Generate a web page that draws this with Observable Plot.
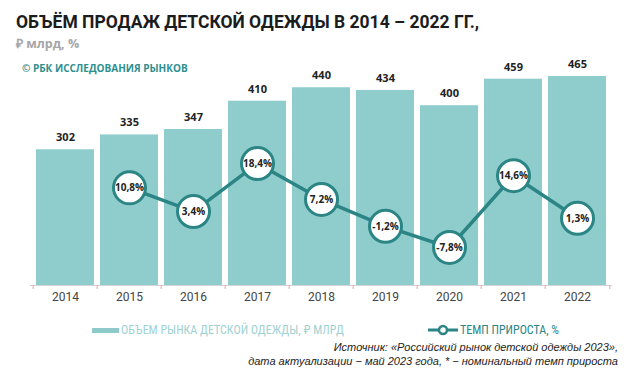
<!DOCTYPE html>
<html><head><meta charset="utf-8">
<script src="https://cdn.jsdelivr.net/npm/d3@7"></script>
<script src="https://cdn.jsdelivr.net/npm/@observablehq/plot@0.6"></script>
<style>
body{margin:0;background:#fff;}
#wrap{position:relative;width:633px;height:371px;overflow:hidden;font-family:"Open Sans",sans-serif;}
#chart{position:absolute;left:0;top:0;}
.t{position:absolute;white-space:nowrap;}
#title{left:16px;top:12px;font:700 17.5px Roboto,sans-serif;color:#1c1c1c;}
#sub{left:16px;top:35px;font:700 12.5px "Open Sans",sans-serif;color:#a6a6a6;}
#copy{left:22px;top:61px;font:700 10px "Open Sans",sans-serif;color:#2e8f8f;}
.leg{top:322px;font:12px "Liberation Sans Narrow","Roboto Condensed",sans-serif;display:flex;align-items:center;}
#src{right:15px;top:340px;text-align:right;font:italic 11px "Liberation Sans Narrow",sans-serif;color:#222;line-height:14px;}
</style></head>
<body><div id="wrap">
<div id="chart"></div>
<div class="t" id="title">ОБЪЁМ ПРОДАЖ ДЕТСКОЙ ОДЕЖДЫ В 2014 – 2022 ГГ.,</div>
<div class="t" id="sub">₽ млрд, %</div>
<div class="t" id="copy">© РБК ИССЛЕДОВАНИЯ РЫНКОВ</div>
<div class="t leg" style="left:92px;color:#9fd2d2;"><svg width="29" height="16"><rect x="0" y="6" width="27" height="5" fill="#8fcaca"/></svg><span>ОБЪЕМ РЫНКА ДЕТСКОЙ ОДЕЖДЫ, ₽ МЛРД</span></div>
<div class="t leg" style="left:428px;color:#2b8585;"><svg width="32" height="16"><line x1="0" x2="30" y1="8" y2="8" stroke="#2b8585" stroke-width="3"/><circle cx="15" cy="8" r="4" fill="#fff" stroke="#2b8585" stroke-width="2.5"/></svg><span>ТЕМП ПРИРОСТА, %</span></div>
<div class="t" id="src">Источник: «Российский рынок детской одежды 2023»,<br>дата актуализации − май 2023 года, * − номинальный темп прироста</div>
</div>
<script>
const years = ["2014","2015","2016","2017","2018","2019","2020","2021","2022"];
const volume = [302, 335, 347, 410, 440, 434, 400, 459, 465];
const growthYears = ["2015","2016","2017","2018","2019","2020","2021","2022"];
const growth = [10.8, 3.4, 18.4, 7.2, -1.2, -7.8, 14.6, 1.3];

const bars = years.map((y, i) => ({year: y, v: volume[i]}));
// secondary axis for growth, mapped into the bar scale's units
const toBar = p => 140.2 + 7.13 * p;
const pts = growthYears.map((y, i) => ({year: y, p: growth[i]}));
const fmt = p => String(p).replace(".", ",") + "%";
const step = 582 / 9;

const plot = Plot.plot({
  width: 633, height: 310,
  marginTop: 76, marginBottom: 25, marginLeft: 30, marginRight: 21,
  x: {type: "band", domain: years, paddingInner: 0.09, paddingOuter: 0.045, axis: null, label: null},
  y: {domain: [0, 465], axis: null},
  marks: [
    Plot.barY(bars, {x: "year", y: "v", fill: "#8fcccc"}),
    Plot.text(bars, {x: "year", y: "v", text: d => String(d.v), dy: -12, fontSize: 11, fontWeight: 700, fill: "#222", fontFamily: "Open Sans"}),
    Plot.ruleY([0], {stroke: "#d4d4d4", strokeWidth: 1}),
    Plot.ruleX(years, {x: d => d, y1: 0, y2: 0, insetBottom: -4, dx: -step / 2, stroke: "#e0a8a8"}),
    Plot.ruleX([years[years.length - 1]], {x: d => d, y1: 0, y2: 0, insetBottom: -4, dx: step / 2, stroke: "#e0a8a8"}),
    Plot.axisX({tickSize: 0, tickPadding: 7, fontSize: 12, fontFamily: "Roboto", fill: "#444", label: null}),
    Plot.line(pts, {x: "year", y: d => toBar(d.p), stroke: "#2b8585", strokeWidth: 3.5}),
    Plot.dot(pts, {x: "year", y: d => toBar(d.p), r: 16, fill: "#fff", stroke: "#2b8585", strokeWidth: 3}),
    Plot.text(pts, {x: "year", y: d => toBar(d.p), text: d => fmt(d.p), fontSize: 10, fontWeight: 700, fill: "#222", fontFamily: "Open Sans", letterSpacing: "-0.3px"})
  ]
});
document.getElementById("chart").appendChild(plot);
</script>
</body></html>
